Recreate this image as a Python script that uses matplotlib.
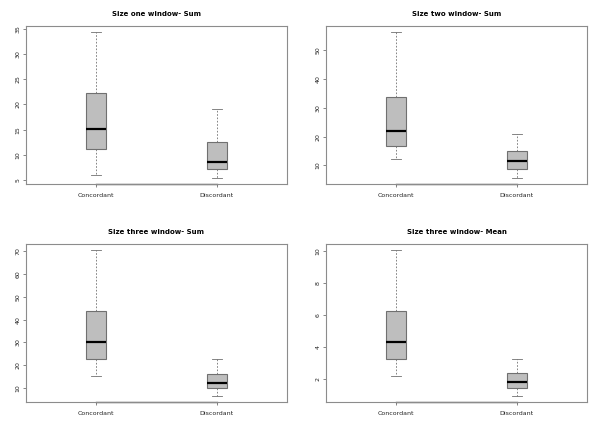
import matplotlib
matplotlib.use('Agg')
import matplotlib.pyplot as plt

# Group labels
groups = ["Concordant", "Discordant"]

# Panel titles
titles = ["Size one window- Sum", "Size two window- Sum",
          "Size three window- Sum", "Size three window- Mean"]

# Five-number summaries: [low whisker, Q1, median, Q3, high whisker]
one_sum = [[6.1, 11.1, 15.2, 22.2, 34.4], [5.4, 7.3, 8.6, 12.6, 19.1]]
two_sum = [[12.3, 16.6, 21.8, 33.8, 56.4], [5.6, 8.8, 11.4, 15.0, 21.0]]
three_sum = [[15.0, 22.5, 30.0, 43.7, 70.7], [6.3, 9.9, 12.0, 16.1, 22.7]]
three_mean = [[2.13, 3.2, 4.27, 6.23, 10.1], [0.89, 1.42, 1.77, 2.36, 3.22]]

# y tick positions per panel
yticks = [[5, 10, 15, 20, 25, 30, 35], [10, 20, 30, 40, 50],
          [10, 20, 30, 40, 50, 60, 70], [2, 4, 6, 8, 10]]

panels = [one_sum, two_sum, three_sum, three_mean]

fig = plt.figure(figsize=(6, 4.36), dpi=100)
# axes rectangles in figure fractions (left, bottom, width, height)
rects = [(26/600, 1-184/436, 261/600, 158/436), (326/600, 1-184/436, 261/600, 158/436),
         (26/600, 1-402/436, 261/600, 158/436), (326/600, 1-402/436, 261/600, 158/436)]

frame_col = "#8c8c8c"

for i, data in enumerate(panels):
    ax = fig.add_axes(rects[i])
    stats = []
    for g, s in zip(groups, data):
        stats.append({"whislo": s[0], "q1": s[1], "med": s[2], "q3": s[3], "whishi": s[4],
                      "fliers": [], "label": g})
    ax.bxp(stats, positions=[1, 2], widths=0.16, patch_artist=True, showfliers=False,
           boxprops=dict(facecolor="#bebebe", edgecolor="#707070", linewidth=0.8),
           medianprops=dict(color="black", linewidth=1.6),
           whiskerprops=dict(color="#707070", linewidth=0.6, linestyle=(0, (2, 2))),
           capprops=dict(color="#707070", linewidth=0.6), capwidths=0.08)
    lo = min(s[0] for s in data)
    hi = max(s[4] for s in data)
    pad = (hi - lo) * 0.04
    ax.set_ylim(lo - pad, hi + pad)
    ax.set_xlim(0.42, 2.58)
    ax.set_yticks(yticks[i])
    ax.set_yticklabels([str(t) for t in yticks[i]], rotation=90, va="center", fontsize=4.5)
    ax.set_xticks([1, 2])
    ax.set_xticklabels(groups, fontsize=4.5)
    ax.tick_params(length=2.5, width=0.5, colors="#555555", labelcolor="#222222", pad=1.5)
    ax.tick_params(axis="x", pad=4)
    for sp in ax.spines.values():
        sp.set_color(frame_col)
        sp.set_linewidth(0.8)
    # R-style x axis line between the first and last ticks
    ax.plot([1, 2], [0, 0], transform=ax.get_xaxis_transform(), color="#555555",
            linewidth=1.0, clip_on=False)
    ax.set_title(titles[i], fontsize=5, fontweight="bold", pad=7)

fig.savefig("out.png", dpi=100)
